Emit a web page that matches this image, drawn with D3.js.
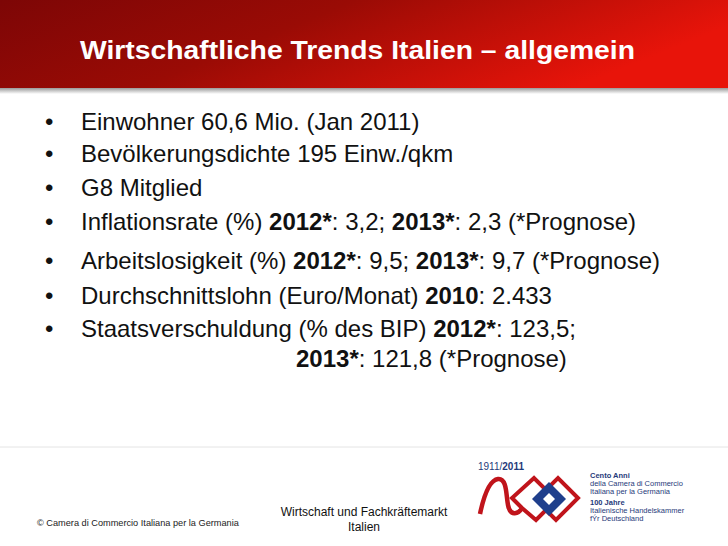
<!DOCTYPE html>
<html><head><meta charset="utf-8">
<script src="https://cdn.jsdelivr.net/npm/d3@7"></script>
<style>body{margin:0;background:#fff}svg{display:block;font-family:"Liberation Sans",Arial,sans-serif}</style>
</head><body><svg id="s" width="728" height="546"></svg>
<script>
const title = "Wirtschaftliche Trends Italien – allgemein";
// each bullet: list of [text, bold]
const bullets = [
  [["Einwohner 60,6 Mio. (Jan 2011)",0]],
  [["Bevölkerungsdichte 195 Einw./qkm",0]],
  [["G8 Mitglied",0]],
  [["Inflationsrate (%) ",0],["2012*",1],[": 3,2; ",0],["2013*",1],[": 2,3 (*Prognose)",0]],
  [["Arbeitslosigkeit (%) ",0],["2012*",1],[": 9,5; ",0],["2013*",1],[": 9,7 (*Prognose)",0]],
  [["Durchschnittslohn (Euro/Monat) ",0],["2010",1],[": 2.433",0]],
  [["Staatsverschuldung (% des BIP) ",0],["2012*",1],[": 123,5;",0]]
];
const continuation = [["2013*",1],[": 121,8 (*Prognose)",0]];
const lineY = [130,162,196,230,269,304,337];
const footerLeft = "© Camera di Commercio Italiana per la Germania";
const footerCenter = ["Wirtschaft und Fachkräftemarkt","Italien"];
const logoLines = [["Cento Anni",1],["della Camera di Commercio",0],["Italiana per la Germania",0],["100 Jahre",1],["Italienische Handelskammer",0],["fÝr Deutschland",0]];

const svg = d3.select("#s");
const defs = svg.append("defs");
const g = defs.append("linearGradient").attr("id","hg").attr("x1","0").attr("y1","0").attr("x2","1").attr("y2","0.3");
g.append("stop").attr("offset","0").attr("stop-color","#7d0606");
g.append("stop").attr("offset","0.45").attr("stop-color","#9a0b05");
g.append("stop").attr("offset","1").attr("stop-color","#e8140a");
const sh = defs.append("linearGradient").attr("id","sh").attr("x1","0").attr("y1","0").attr("x2","0").attr("y2","1");
sh.append("stop").attr("offset","0").attr("stop-color","#999");
sh.append("stop").attr("offset","1").attr("stop-color","#fff");

svg.append("rect").attr("x",0).attr("y",0).attr("width",728).attr("height",88).attr("fill","url(#hg)");
svg.append("rect").attr("x",0).attr("y",88).attr("width",728).attr("height",6).attr("fill","url(#sh)");
svg.append("text").attr("x",80).attr("y",59).attr("fill","#fff")
  .attr("font-size",26).attr("font-weight","bold").attr("textLength",555).attr("lengthAdjust","spacingAndGlyphs").text(title);

bullets.forEach((b,i)=>{
  svg.append("text").attr("x",45).attr("y",lineY[i]).attr("font-size",24).attr("fill","#111").text("•");
  const t = svg.append("text").attr("x",81).attr("y",lineY[i]).attr("font-size",24).attr("fill","#111");
  b.forEach(([s,bd])=>t.append("tspan").attr("font-weight",bd?"bold":"normal").text(s));
});
const t2 = svg.append("text").attr("x",296).attr("y",367).attr("font-size",24).attr("fill","#111");
continuation.forEach(([s,bd])=>t2.append("tspan").attr("font-weight",bd?"bold":"normal").text(s));

// footer
svg.append("line").attr("x1",0).attr("x2",728).attr("y1",447).attr("y2",447).attr("stroke","#e4e4e4");
svg.append("text").attr("x",37).attr("y",526).attr("font-size",9.2).attr("fill","#222").text(footerLeft);
footerCenter.forEach((s,i)=>svg.append("text").attr("x",364).attr("y",516+i*15).attr("text-anchor","middle")
  .attr("font-size",12).attr("fill","#111").text(s));

// logo
const lg = svg.append("g");
const yt = lg.append("text").attr("x",478).attr("y",470).attr("font-size",10).attr("fill","#1f3a7a");
yt.append("tspan").text("1911/"); yt.append("tspan").attr("font-weight","bold").text("2011");
lg.append("path").attr("d","M480,514 C484,495 490,480 498,479 C507,478 506,495 508,505 C510,516 518,515 522,508")
  .attr("fill","none").attr("stroke","#c0141b").attr("stroke-width",4.5);
lg.append("path").attr("d","M522,508 L512,498 L534,478 L546,490 L558,478 L578,498 L556,520 L546,510 L536,520 Z").attr("fill","none").attr("stroke","#c0141b").attr("stroke-width",4);
lg.append("path").attr("d","M532,499 L549,482 L566,499 L549,516 Z").attr("fill","#1f3f8c");
lg.append("path").attr("d","M543,499 L549,493 L555,499 L549,505 Z").attr("fill","#fff");
logoLines.forEach(([s,bd],i)=>lg.append("text").attr("x",590).attr("y",478+i*8.2+(i>=3?2:0))
  .attr("font-size",7.5).attr("font-weight",bd?"bold":"normal").attr("fill","#1f3a7a").text(s));
</script></body></html>
